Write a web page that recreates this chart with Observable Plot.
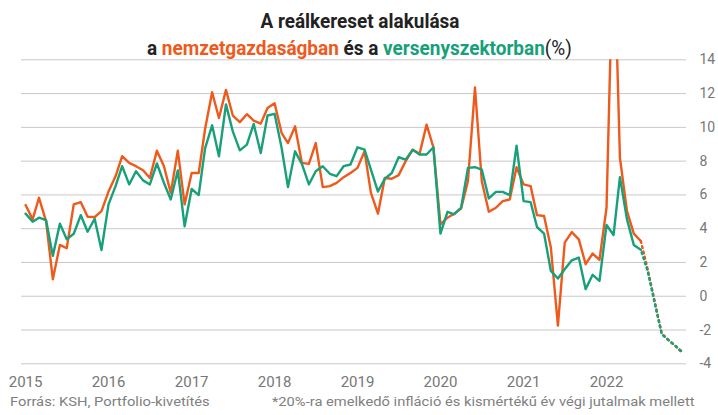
<!DOCTYPE html>
<html><head><meta charset="utf-8">
<script src="https://cdn.jsdelivr.net/npm/d3@7"></script>
<script src="https://cdn.jsdelivr.net/npm/@observablehq/plot@0.6"></script>
<style>
body{margin:0;background:#fff;}
#wrap{position:relative;width:718px;height:415px;overflow:hidden;font-family:Roboto, sans-serif;}
#wrap svg{position:absolute;left:0;top:0;}
</style></head><body><div id="wrap"></div>
<script>
// Reálkereset, % (havi), 2015-01 .. 2022-06
const nemzetgazdasag = [
  5.4, 4.55, 5.83, 4.45, 1.0, 3.04, 2.84, 5.44, 5.57, 4.71, 4.69, 5.04,
  6.2, 7.1, 8.29, 7.9, 7.7, 7.46, 7.0, 8.62, 7.7, 6.12, 8.62, 5.44,
  7.3, 7.3, 9.9, 12.08, 10.55, 12.22, 10.7, 10.31, 10.78, 10.4, 10.22, 11.14,
  11.43, 9.66, 9.07, 10.06, 7.9, 7.84, 9.07, 6.46, 6.52, 6.71, 7.05, 7.3,
  7.6, 8.58, 6.12, 4.89, 7.0, 6.96, 7.17, 8.0, 8.68, 8.43, 10.16, 8.82,
  4.26, 4.65, 4.89, 5.2, 6.81, 12.36, 6.81, 5.0, 5.24, 5.63, 5.73, 7.64,
  6.62, 6.52, 4.8, 4.75, 2.88, -1.74, 3.17, 3.8, 3.37, 1.9, 2.53, 2.15,
  5.24, 21.8, 8.19, 5.04, 3.71, 3.27
];
const versenyszektor = [
  4.89, 4.41, 4.65, 4.51, 2.39, 4.3, 3.37, 3.7, 4.8, 3.82, 4.59, 2.74,
  5.44, 6.52, 7.7, 6.62, 7.4, 6.86, 6.62, 7.86, 6.71, 5.73, 7.45, 4.14,
  6.35, 5.99, 8.76, 10.12, 8.29, 11.36, 9.76, 8.64, 8.98, 10.2, 8.48, 10.7,
  10.8, 8.78, 6.46, 8.58, 7.84, 6.62, 7.4, 7.7, 7.25, 7.11, 7.7, 7.8,
  8.82, 8.68, 7.5, 6.2, 6.96, 7.3, 8.23, 8.09, 8.68, 8.39, 8.39, 8.82,
  3.71, 5.0, 4.85, 5.24, 7.6, 7.64, 7.5, 5.79, 6.18, 6.18, 5.99, 8.92,
  5.63, 5.57, 4.1, 3.71, 1.5, 1.05, 1.6, 2.13, 2.29, 0.42, 1.27, 0.91,
  4.22, 3.63, 7.05, 4.55, 3.04, 2.75
];
// Kivetítés 2022-06 .. 2022-12
const kivetitesNemzet = [3.27, 1.6, -0.3, -2.2, -2.6, -2.95, -3.37];
const kivetitesVerseny = [2.75, 1.5, -0.4, -2.25, -2.6, -2.95, -3.3];

const firstMonth = [2015, 0];
const forecastFirstMonth = [2022, 5];
const yearTicks = [2015, 2016, 2017, 2018, 2019, 2020, 2021, 2022];
const yTicks = [-4, -2, 0, 2, 4, 6, 8, 10, 12, 14];

const ORANGE = "#EE5A1C", GREEN = "#17A07A";

const rows = (vals, [y, m]) => vals.map((v, i) => ({date: new Date(Date.UTC(y, m + i, 1)), value: v}));
const nRows = rows(nemzetgazdasag, firstMonth);
const vRows = rows(versenyszektor, firstMonth);
const fnRows = rows(kivetitesNemzet, forecastFirstMonth);
const fvRows = rows(kivetitesVerseny, forecastFirstMonth);

const chart = Plot.plot({
  width: 718, height: 415,
  marginTop: 59.3, marginBottom: 51.7, marginLeft: 21, marginRight: 32,
  style: {fontFamily: "Roboto, sans-serif", background: "transparent", overflow: "visible"},
  x: {type: "utc", domain: [new Date(Date.UTC(2014, 11, 14)), new Date(Date.UTC(2022, 11, 19))], label: null},
  y: {domain: [-4, 14], label: null},
  marks: [
    Plot.gridY(yTicks, {stroke: "#c9c9c9", strokeOpacity: 1, strokeWidth: 1}),
    Plot.axisX(yearTicks.map(y => new Date(Date.UTC(y, 0, 1))), {
      tickSize: 0, tickPadding: 13, tickFormat: d3.utcFormat("%Y"),
      fontSize: 15, fill: "#777", label: null
    }),
    Plot.axisY(yTicks, {
      anchor: "right", tickSize: 0, tickPadding: 13, tickFormat: d => String(d),
      fontSize: 14, fill: "#777", label: null
    }),
    Plot.line(fnRows, {x: "date", y: "value", stroke: ORANGE, strokeWidth: 2.5, strokeDasharray: "1.8 3.6", clip: true}),
    Plot.line(fvRows, {x: "date", y: "value", stroke: GREEN, strokeWidth: 2.5, strokeDasharray: "1.8 3.6", strokeDashoffset: 2.7, clip: true}),
    Plot.line(nRows, {x: "date", y: "value", stroke: ORANGE, strokeWidth: 2.4, clip: true}),
    Plot.line(vRows, {x: "date", y: "value", stroke: GREEN, strokeWidth: 2.4, clip: true})
  ]
});
const wrap = document.getElementById("wrap");
wrap.appendChild(chart);

// Titles and captions
const ov = d3.select(wrap).append("svg").attr("width", 718).attr("height", 415)
  .style("font-family", "Roboto, sans-serif");

function fit(sel, cx, y, target, anchor) {
  const w = sel.node().getComputedTextLength();
  const s = target / w;
  let x0;
  if (anchor === "middle") x0 = cx - target / 2;
  else if (anchor === "end") x0 = cx - target;
  else x0 = cx;
  sel.attr("x", 0).attr("y", 0).attr("transform", `translate(${x0},${y}) scale(${s},1)`);
}

const t1 = ov.append("text").attr("font-size", 21).attr("font-weight", 700).attr("fill", "#222")
  .text("A reálkereset alakulása");
fit(t1, 360, 27.5, 199, "middle");

const t2 = ov.append("text").attr("font-size", 20).attr("font-weight", 700).attr("fill", "#222");
t2.append("tspan").text("a ");
t2.append("tspan").attr("fill", ORANGE).text("nemzetgazdaságban");
t2.append("tspan").text(" és a ");
t2.append("tspan").attr("fill", GREEN).text("versenyszektorban");
t2.append("tspan").attr("font-weight", 400).text("(%)");
fit(t2, 359.5, 55, 425, "middle");

const c1 = ov.append("text").attr("font-size", 13.5).attr("fill", "#808080")
  .text("Forrás: KSH, Portfolio-kivetítés");
fit(c1, 10, 406, 200, "start");

const c2 = ov.append("text").attr("font-size", 13.5).attr("fill", "#808080")
  .text("*20%-ra emelkedő infláció és kismértékű év végi jutalmak mellett");
fit(c2, 695, 406, 423, "end");
</script></body></html>
